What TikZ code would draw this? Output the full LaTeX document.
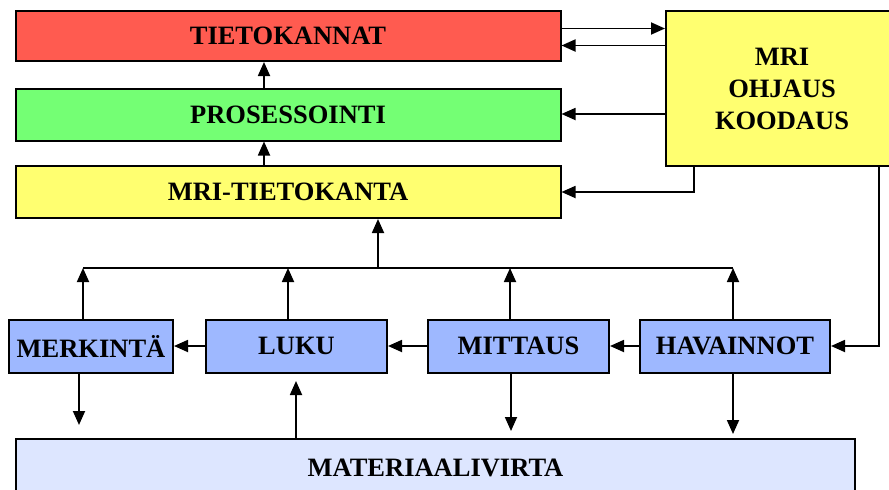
\documentclass[tikz,border=0pt]{standalone}
\usepackage{fontspec}
\setmainfont{Liberation Serif}
\usetikzlibrary{arrows.meta}
\definecolor{boxred}{HTML}{FF5B50}
\definecolor{boxgreen}{HTML}{74FF74}
\definecolor{boxyellow}{HTML}{FFFF70}
\definecolor{boxblue}{HTML}{9EB8FF}
\definecolor{flowblue}{HTML}{DDE6FF}
\tikzset{
  block/.style={draw=black, line width=2pt, inner sep=0pt,
    font=\fontsize{26.5}{32}\selectfont\bfseries, align=center},
  conn/.style={line width=1.8pt, -{Triangle[length=14pt,width=12pt]}},
  wire/.style={line width=1.8pt},
}
\begin{document}
\begin{tikzpicture}[x=1pt,y=-1pt]
\useasboundingbox (0,0) rectangle (889,490);
\clip (0,0) rectangle (889,490);
\fill[white] (0,0) rectangle (889,490);

% upper column of databases
\node[block, fill=boxred,    minimum width=545pt, minimum height=50pt] (tk)  at (288,36)    {TIETOKANNAT};
\node[block, fill=boxgreen,  minimum width=545pt, minimum height=52pt] (pro) at (288,114.5) {PROSESSOINTI};
\node[block, fill=boxyellow, minimum width=545pt, minimum height=52pt] (mtk) at (288,192)   {MRI-TIETOKANTA};

% control unit (runs past the right edge)
\node[block, fill=boxyellow, minimum width=232pt, minimum height=155pt] (mri) at (782,88.5) {MRI\\OHJAUS\\KOODAUS};

% process chain
\node[block, fill=boxblue, minimum width=164pt, minimum height=53pt] (mer) at (91,346)  {MERKINTÄ};
\node[block, fill=boxblue, minimum width=181pt, minimum height=53pt] (luk) at (296.5,346) {LUKU};
\node[block, fill=boxblue, minimum width=181pt, minimum height=53pt] (mit) at (518.5,346) {MITTAUS};
\node[block, fill=boxblue, minimum width=190pt, minimum height=53pt] (hav) at (735,346)  {HAVAINNOT};

% material flow (runs past the bottom edge)
\node[block, fill=flowblue, minimum width=839pt, minimum height=58pt] (mat) at (435.5,468) {MATERIAALIVIRTA};

% helper rows and columns
\coordinate (r1) at (0,28.5);
\coordinate (r2) at (0,45.5);
\coordinate (r3) at (0,114);
\coordinate (r4) at (0,192);
\coordinate (bus) at (0,268);
\coordinate (c1) at (694,0);
\coordinate (c2) at (879,0);
\coordinate (cm) at (378,0);

% links between upper boxes and the control unit
\draw[conn] (tk.east |- r1) -- (mri.west |- r1);
\draw[conn] (mri.west |- r2) -- (tk.east |- r2);
\draw[conn] (mri.west |- r3) -- (pro.east |- r3);
\draw[conn] (mri.south -| c1) |- (mtk.east |- r4);
\draw[conn] (mri.south -| c2) |- (hav.east);

% upward flow in the column
\draw[conn] (pro.north -| 264,0) -- (tk.south -| 264,0);
\draw[conn] (mtk.north -| 264,0) -- (pro.south -| 264,0);

% collecting bus
\draw[wire] (83,268) -- (733,268);
\draw[conn] (bus -| cm) -- (mtk.south -| cm);
\draw[conn] (mer.north -| 83,0)  -- (bus -| 83,0);
\draw[conn] (luk.north -| 288,0) -- (bus -| 288,0);
\draw[conn] (mit.north -| 510,0) -- (bus -| 510,0);
\draw[conn] (hav.north -| 733,0) -- (bus -| 733,0);

% chain from right to left
\draw[conn] (hav.west) -- (mit.east);
\draw[conn] (mit.west) -- (luk.east);
\draw[conn] (luk.west) -- (mer.east);

% exchange with the material flow
\coordinate (d1) at (79,425);
\coordinate (d2) at (511,431);
\coordinate (d3) at (733,434);
\draw[conn] (mer.south -| d1) -- (d1);
\draw[conn] (mit.south -| d2) -- (d2);
\draw[conn] (hav.south -| d3) -- (d3);
\coordinate (u1) at (296,381);
\draw[conn] (mat.north -| u1) -- (u1);
\end{tikzpicture}
\end{document}
